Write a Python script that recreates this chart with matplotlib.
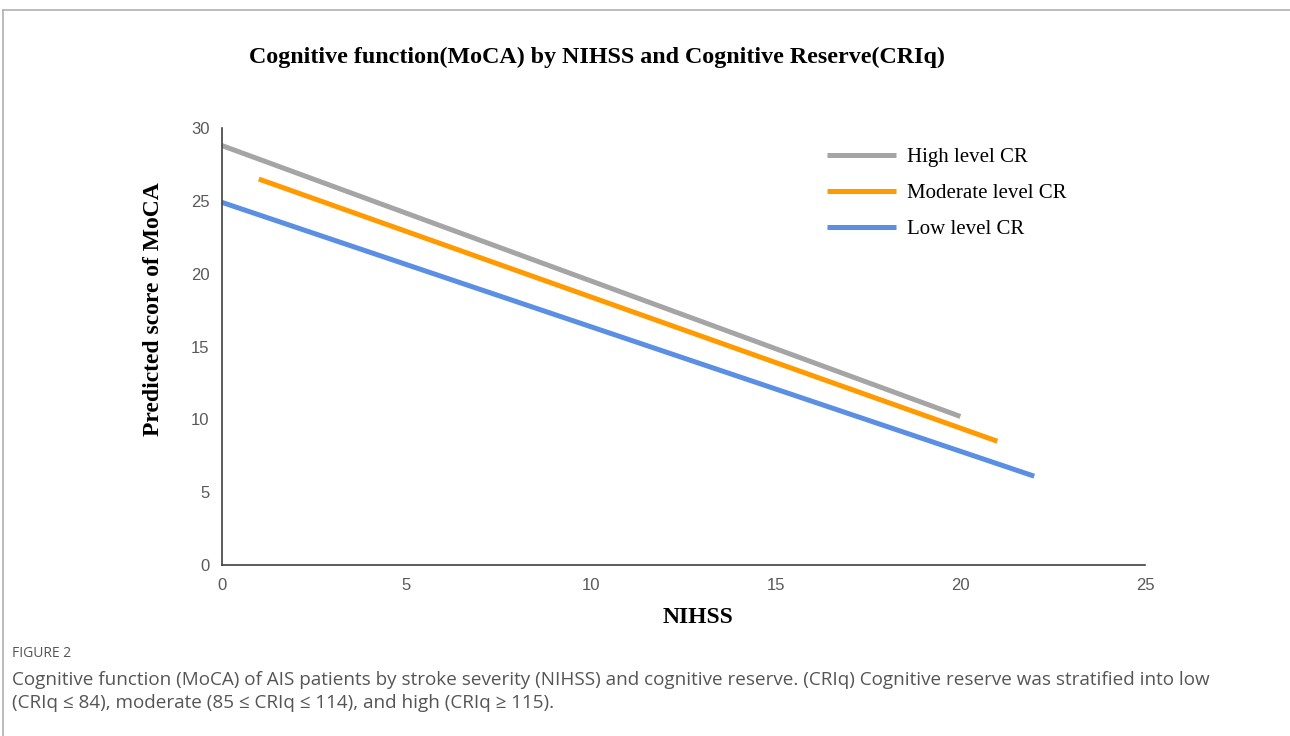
import matplotlib.pyplot as plt
from matplotlib.lines import Line2D

# Data
nihss_high = [0, 20]
moca_high = [28.8, 10.2]
nihss_mod = [1, 21]
moca_mod = [26.5, 8.5]
nihss_low = [0, 22]
moca_low = [24.9, 6.1]

labels = ['High level CR', 'Moderate level CR', 'Low level CR']
colors = ['#A5A5A5', '#FF9A00', '#5B8FE3']

serif = 'Liberation Serif'
sans = 'Liberation Sans'

fig = plt.figure(figsize=(12.9, 7.36), dpi=100)
ax = fig.add_axes([0.172, 0.2323, 0.7156, 0.5937])

ax.plot(nihss_high, moca_high, color=colors[0], lw=3.6, label=labels[0], solid_capstyle='butt')
ax.plot(nihss_mod, moca_mod, color=colors[1], lw=3.6, label=labels[1], solid_capstyle='butt')
ax.plot(nihss_low, moca_low, color=colors[2], lw=3.6, label=labels[2], solid_capstyle='butt')

ax.set_xlim(0, 25)
ax.set_ylim(0, 30)
ax.set_xticks(range(0, 26, 5))
ax.set_yticks(range(0, 31, 5))
ax.tick_params(length=0, labelsize=12, colors='#595959', pad=9)
for lab in ax.get_xticklabels() + ax.get_yticklabels():
    lab.set_family(sans)
for s in ['top', 'right']:
    ax.spines[s].set_visible(False)
for s in ['left', 'bottom']:
    ax.spines[s].set_color('#404040')
    ax.spines[s].set_linewidth(1.2)

ax.set_xlabel('NIHSS', fontfamily=serif, fontweight='bold', fontsize=17)
ax.xaxis.set_label_coords(0.516, -0.095)
ax.set_ylabel('Predicted score of MoCA', fontfamily=serif, fontweight='bold', fontsize=17)
ax.yaxis.set_label_coords(-0.063, 0.585)

fig.text(0.4628, 0.922, 'Cognitive function(MoCA) by NIHSS and Cognitive Reserve(CRIq)',
         ha='center', va='center', fontfamily=serif, fontweight='bold', fontsize=17.3)

ax.legend(loc='upper left', bbox_to_anchor=(0.635, 0.998), frameon=False,
          prop={'family': serif, 'size': 15}, handlelength=3.3, labelspacing=0.78,
          handletextpad=0.55)

# page border and caption
fig.add_artist(Line2D([0.0025, 1], [0.986, 0.986], color='#b0b0b0', lw=1.2))
fig.add_artist(Line2D([0.0025, 0.0025], [0, 0.986], color='#b0b0b0', lw=1.2))
fig.text(0.009, 0.112, 'FIGURE 2', fontfamily='Open Sans', fontsize=10, color='#555555', va='center')
fig.text(0.009, 0.076, 'Cognitive function (MoCA) of AIS patients by stroke severity (NIHSS) and cognitive reserve. '
         '(CRIq) Cognitive reserve was stratified into low',
         fontfamily='Open Sans', fontsize=13.6, color='#555555', va='center')
fig.text(0.009, 0.045, '(CRIq \u2264 84), moderate (85 \u2264 CRIq \u2264 114), and high (CRIq \u2265 115).',
         fontfamily='Open Sans', fontsize=13.6, color='#555555', va='center')

fig.savefig('out.png', dpi=100)
